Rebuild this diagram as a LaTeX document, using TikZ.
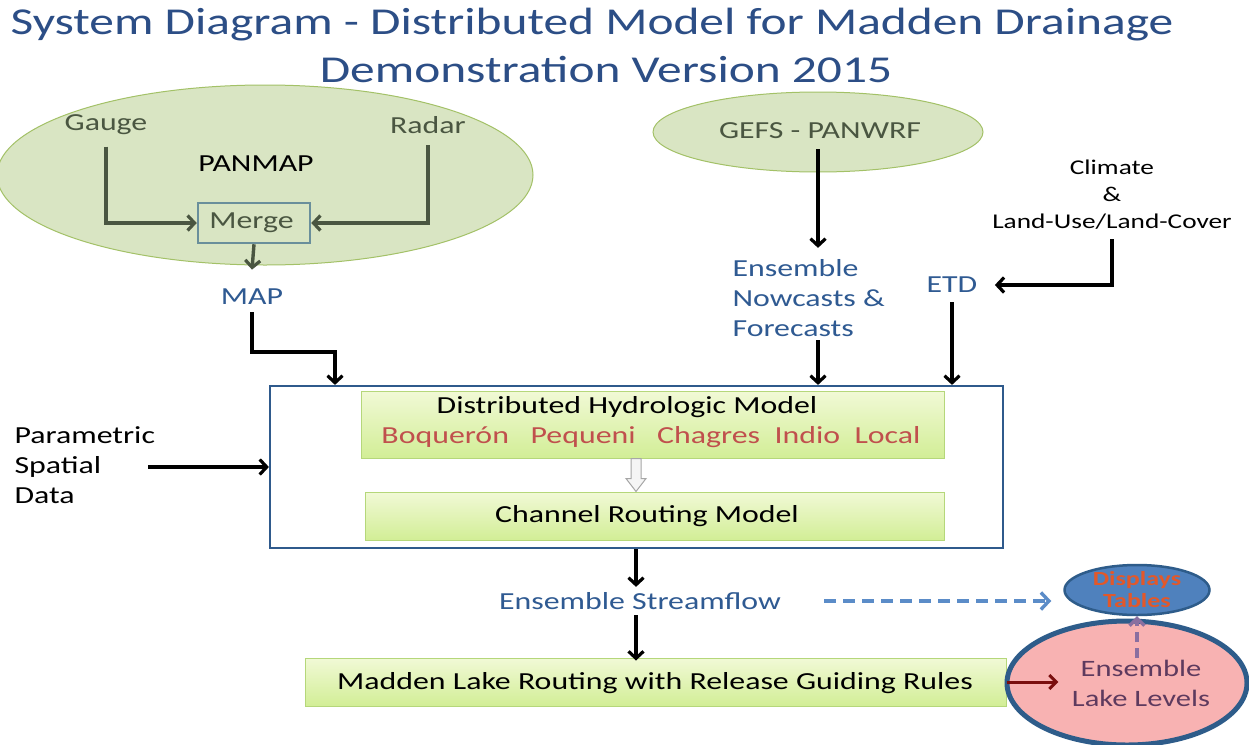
\documentclass[tikz,border=0pt]{standalone}
\usepackage{fontspec}
\setmainfont{Carlito}[FakeStretch=1.3]
\usetikzlibrary{arrows.meta,shapes.geometric,calc}
\definecolor{titleblue}{HTML}{2C4E86}
\definecolor{txtblue}{HTML}{2F5A92}
\definecolor{ellfill}{HTML}{D9E5C3}
\definecolor{ellborder}{HTML}{A3C167}
\definecolor{darkgreen}{HTML}{4A5641}
\definecolor{mergeborder}{HTML}{6A8F9B}
\definecolor{boxblue}{HTML}{2F5A8C}
\definecolor{redtxt}{HTML}{C0504D}
\definecolor{boxtop}{HTML}{F1F9D6}
\definecolor{boxbot}{HTML}{D2EE96}
\definecolor{boxborder}{HTML}{B5D77A}
\definecolor{dashblue}{HTML}{5B8CC8}
\definecolor{dispfill}{HTML}{4F81BD}
\definecolor{dispborder}{HTML}{2E5C8A}
\definecolor{disptxt}{HTML}{E2582A}
\definecolor{lakefill}{HTML}{F8B2B2}
\definecolor{laketxt}{HTML}{5E3A5E}
\definecolor{dashpurple}{HTML}{8A6FA0}
\definecolor{darkred}{HTML}{7A0E0E}
\tikzset{
  arr/.style={line width=3.4pt, -{Straight Barb[length=7pt,width=15pt,line width=3.2pt]}},
  garr/.style={arr, draw=darkgreen},
  greenell/.style={ellipse, draw=ellborder, line width=1pt, fill=ellfill, inner sep=0pt},
  gtxt/.style={font=\fontsize{24.5}{28}\selectfont, text=darkgreen},
  btxt/.style={font=\fontsize{24.5}{30}\selectfont, text=txtblue},
  ktxt/.style={font=\fontsize{24.5}{30}\selectfont, text=black},
  greenbox/.style={rectangle, draw=boxborder, line width=1pt, top color=boxtop, bottom color=boxbot, inner sep=0pt},
}
\begin{document}
\begin{tikzpicture}[x=1pt,y=-1pt]
\useasboundingbox (0,0) rectangle (1249,744);
\fill[white] (0,0) rectangle (1249,744);
% title
\node[font=\fontsize{38}{42}\selectfont, text=titleblue] (t1) at (592,25) {System Diagram - Distributed Model for Madden Drainage};
\node[font=\fontsize{38}{42}\selectfont, text=titleblue] (t2) at (606,70) {Demonstration Version 2015};
% big box
\node[rectangle, draw=boxblue, line width=2.2pt, minimum width=733pt, minimum height=162pt, inner sep=0pt] (big) at (636.5,467) {};
% PANMAP
\node[greenell, minimum width=536pt, minimum height=180pt] (panmap) at (265,175) {};
\node[gtxt] (gauge) at (106,125) {Gauge};
\node[gtxt] (radar) at (428,125) {Radar};
\node[ktxt] (pm) at (256,164) {PANMAP};
\node[gtxt, draw=mergeborder, line width=2.5pt, fill=ellfill, minimum width=112pt, minimum height=40pt, inner sep=0pt] (merge) at (254,223) {\hspace*{-5pt}Merge};
\node[btxt] (map) at (252,297) {MAP};
\draw[garr] ([yshift=-8pt]gauge.south) |- (merge.west);
\draw[garr] ([yshift=-8pt]radar.south) |- (merge.east);
\draw[garr] (merge.south) -- ([yshift=16pt]map.north);
\coordinate (c1) at (335,352);
\draw[arr] ([yshift=-4pt]map.south) |- (c1) -- (c1 |- big.north);
% GEFS
\node[greenell, minimum width=330pt, minimum height=80pt] (gefs) at (818,132) {};
\node[gtxt] (gefst) at (820,131) {GEFS - PANWRF};
\node[btxt, align=left, anchor=west] (ens) at (729,298) {Ensemble\\Nowcasts \&\\Forecasts};
\node[ktxt, font=\fontsize{21}{27}\selectfont, align=center] (clim) at (1112,195) {Climate\\\&\\Land-Use/Land-Cover};
\node[btxt] (etd) at (952,285) {ETD};
% inner boxes
\node[greenbox, minimum width=583pt, minimum height=67pt] (dhm) at (652.5,424.5) {};
\node[ktxt] (dhmt) at (627,407) {Distributed Hydrologic Model};
\node[ktxt, text=redtxt] (basins) at (651,437) {Boquerón~~~Pequeni~~~Chagres~~Indio~~Local};
\node[greenbox, minimum width=579pt, minimum height=48pt] (crm) at (654.5,516) {};
\node[ktxt] (crmt) at (647,516) {Channel Routing Model};
\coordinate (ax) at (636,0);
\draw[gray!70, fill=gray!8, line width=1pt] ($(ax |- dhm.south)+(-5,0)$) -- ++(10,0) -- ++(0,20) -- ++(5,0) -- ($(ax |- crm.north)$) -- ++(-10,-13) -- ++(5,0) -- cycle;
% arrows into big box
\draw[arr] ([yshift=-17pt]gefs.center) -- ([yshift=8pt]gefs.center |- ens.north);
\draw[arr] (gefs.center |- ens.south) -- (gefs.center |- big.north);
\draw[arr] ([yshift=-6pt]clim.south) |- ([xshift=14pt]etd.east);
\draw[arr] ([yshift=-6pt]etd.south) -- (etd.south |- big.north);
\node[ktxt, align=left, anchor=west] (param) at (11,465) {Parametric\\Spatial\\Data};
\coordinate (pin) at (148,467);
\draw[arr] (pin) -- (pin -| big.west);
% outputs
\node[btxt] (sf) at (640,601) {Ensemble Streamflow};
\draw[arr] (big.south -| ax) -- ([yshift=2pt]sf.north -| ax);
\node[greenbox, minimum width=701pt, minimum height=48pt] (madden) at (655.5,682) {};
\node[ktxt] (maddent) at (655,683) {Madden Lake Routing with Release Guiding Rules};
\draw[arr] ([yshift=-2pt]sf.south -| ax) -- ([yshift=-3pt]madden.north -| ax);
% lake & displays
\node[ellipse, draw=dispborder, line width=5pt, fill=lakefill, minimum width=240pt, minimum height=124pt, inner sep=0pt] (lake) at (1127,683) {};
\node[font=\fontsize{23.5}{30}\selectfont, text=laketxt, align=center] (laket) at (1141,683) {Ensemble\\Lake Levels};
\node[ellipse, draw=dispborder, line width=2.5pt, fill=dispfill, minimum width=145pt, minimum height=50pt, inner sep=0pt] (disp) at (1137,590) {};
\node[font=\bfseries\fontsize{20}{22}\selectfont, text=disptxt, align=center] (dispt) at (1137,590) {Displays\\Tables};
\draw[line width=3pt, draw=darkred, -{Straight Barb[length=7pt,width=14pt,line width=3pt]}] (madden.east) -- ([xshift=-10pt]laket.west |- madden.east);
\draw[line width=3.6pt, draw=dashblue, dash pattern=on 12pt off 7pt, -{Straight Barb[length=8pt,width=17pt,line width=3.4pt]}, shorten <=40pt, shorten >=12pt] (sf.east) -- (sf.east -| disp.west);
\draw[line width=3.6pt, draw=dashpurple, dash pattern=on 10pt off 6pt, -{Straight Barb[length=7pt,width=15pt,line width=3.4pt]}] ([yshift=-2pt]disp.south |- laket.north) -- (disp.south);
\end{tikzpicture}
\end{document}
